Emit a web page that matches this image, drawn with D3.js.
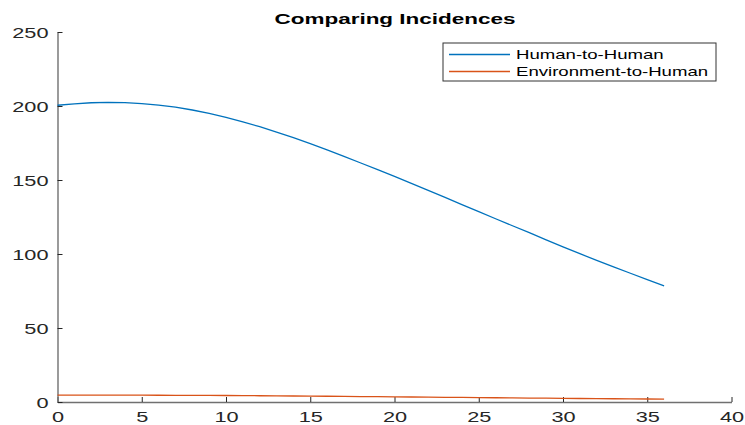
<!DOCTYPE html>
<html><head><meta charset="utf-8">
<script src="https://cdn.jsdelivr.net/npm/d3@7"></script>
<style>body{margin:0;background:#fff}svg{display:block}</style>
</head><body>
<svg id="c" width="745" height="425"></svg>
<script>
const title = "Comparing Incidences";
const seriesNames = ["Human-to-Human", "Environment-to-Human"];
const days = [0,1,2,3,4,5,6,7,8,9,10,11,12,13,14,15,16,17,18,19,20,21,22,23,24,25,26,27,28,29,30,31,32,33,34,35,36];
const humanToHuman = [200.5,201.5,202.2,202.5,202.3,201.6,200.6,199.2,197.3,195,192.3,189.3,186,182.4,178.6,174.6,170.4,166,161.5,157,152.4,147.7,143,138.2,133.4,128.6,123.8,119.1,114.4,109.6,104.8,100.2,95.7,91.3,87,82.7,78.5];
const envToHuman = [4.6,4.62,4.63,4.63,4.62,4.6,4.57,4.53,4.49,4.44,4.38,4.31,4.24,4.16,4.07,3.98,3.89,3.79,3.69,3.59,3.48,3.38,3.27,3.17,3.06,2.96,2.86,2.76,2.66,2.56,2.46,2.37,2.28,2.19,2.1,2.02,1.94];
const xTicks = [0,5,10,15,20,25,30,35,40];
const yTicks = [0,50,100,150,200,250];
const colors = ["#0072BD", "#D95319"];

const svg = d3.select("#c");
svg.append("rect").attr("width",745).attr("height",425).attr("fill","#fff");
const sx = 1.45;
const x = d3.scaleLinear().domain([0,40]).range([57.5,731.5]);
const y = d3.scaleLinear().domain([0,250]).range([402,32]);
const font = "'Liberation Sans', Arial, Helvetica, sans-serif";

// axes
const gx = svg.append("g").attr("transform","translate(0,402)")
  .call(d3.axisBottom(x).tickValues(xTicks).tickSizeInner(-5).tickSizeOuter(0).tickFormat(d3.format("d")));
const gy = svg.append("g").attr("transform","translate(57.5,0)")
  .call(d3.axisLeft(y).tickValues(yTicks).tickSizeInner(-5).tickSizeOuter(0).tickFormat(d3.format("d")));
[gx, gy].forEach(g => {
  g.select(".domain").attr("stroke","#707070").attr("stroke-width",1.4);
  g.selectAll(".tick line").attr("stroke","#262626").attr("stroke-width",1);
  g.selectAll("text").attr("fill","#262626").style("font-family",font).style("font-size","15px");
});
gx.selectAll(".tick text").attr("y",0).attr("dy",null).attr("transform",`translate(0,19.5) scale(${sx},1)`);
gy.selectAll(".tick text").attr("x",0).attr("dy","0.36em").attr("transform",`translate(-9,0) scale(${sx},1)`);

// lines
const line = d3.line().x((d,i)=>x(days[i])).y(d=>y(d));
[humanToHuman, envToHuman].forEach((s,k) => {
  svg.append("path").datum(s).attr("d",line).attr("fill","none")
    .attr("stroke",colors[k]).attr("stroke-width",1.3);
});

// title
svg.append("text").attr("transform",`translate(395,24) scale(1.5,1)`)
  .attr("text-anchor","middle").style("font-family",font).style("font-size","15px")
  .style("font-weight","bold").attr("fill","#000").text(title);

// legend
const lg = svg.append("g");
lg.append("rect").attr("x",443).attr("y",43).attr("width",273).attr("height",38)
  .attr("fill","#fff").attr("stroke","#333").attr("stroke-width",1);
const rows = [54.5, 71.5];
seriesNames.forEach((n,k) => {
  lg.append("line").attr("x1",449).attr("x2",510).attr("y1",rows[k]).attr("y2",rows[k])
    .attr("stroke",colors[k]).attr("stroke-width",1.3);
  lg.append("text").attr("transform",`translate(516,${rows[k]+4.8}) scale(1.43,1)`)
    .style("font-family",font).style("font-size","13px").attr("fill","#000").text(n);
});
</script>
</body></html>
